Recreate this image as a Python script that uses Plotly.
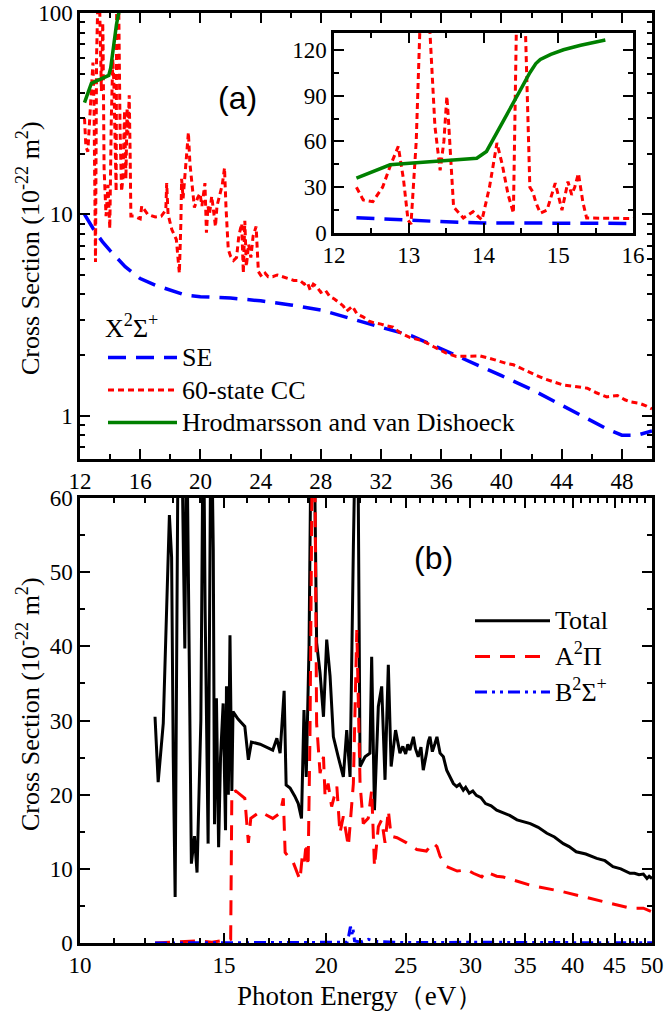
import plotly.graph_objects as go

# ---------------- Panel (a): X2Sigma+ ----------------
se_x = [12.3, 13, 13.5, 14, 15, 16, 17, 18, 19, 20, 22, 24, 26, 28, 30, 32, 34, 36, 38, 40, 42, 44, 46, 47, 48, 49, 50]
se_y = [10.0, 8.2, 7.3, 6.6, 5.5, 4.8, 4.45, 4.2, 3.97, 3.9, 3.84, 3.72, 3.55, 3.35, 3.05, 2.75, 2.5, 2.15, 1.85, 1.58, 1.35, 1.13, 0.95, 0.86, 0.8, 0.8, 0.84]

cc_x = [12.3, 12.39, 12.52, 12.65, 12.75, 12.86, 12.93, 12.99, 13.03, 13.1, 13.15, 13.22, 13.28, 13.35, 13.42, 13.47,
        13.51, 13.53, 13.6, 13.73, 13.86, 13.98, 14.08, 14.18, 14.25, 14.33, 14.4, 14.44, 14.5, 14.56, 14.62, 14.66,
        14.7, 14.76, 14.85, 14.96, 15.05, 15.13, 15.18, 15.22, 15.27, 15.33, 15.38, 15.6, 16.0, 16.1, 16.3, 16.5,
        17.0, 17.4, 17.7, 17.76, 17.85, 18.1, 18.4, 18.6, 18.7, 18.75, 18.85, 19.0, 19.15, 19.2, 19.3, 19.4, 19.5,
        19.6, 19.8, 19.97, 20.1, 20.2, 20.3, 20.4, 20.5, 20.6, 20.75, 20.9, 21.0, 21.1, 21.3, 21.45, 21.6, 21.65,
        21.7, 21.85, 22.0, 22.2, 22.4, 22.55, 22.74, 22.85, 22.95, 23.05, 23.2, 23.35, 23.5, 23.7, 23.85, 24.07,
        24.3, 24.5, 24.8, 25.1, 25.5, 25.8, 26.2, 26.6, 26.9, 27.1, 27.3, 27.5, 27.7, 28.0, 28.3, 28.6, 28.9, 29.3,
        29.5, 29.7, 30.1, 30.4, 30.8, 31.2, 31.5, 32.0, 32.3, 32.8, 33.2, 33.9, 34.8, 35.5, 36.3, 37.0, 37.7, 38.6,
        39.5, 40.3, 40.8, 41.5, 42.2, 42.8, 43.5, 44.1, 44.8, 45.7, 46.3, 47.0, 47.7, 48.2, 48.6, 49.2, 49.6, 50.0]
cc_y = [30, 21.7, 20.5, 30, 43.6, 56.7, 35, 8.5, 5.8, 60, 135, 150, 135, 70, 41, 60,
        89.5, 75, 17, 9.8, 14, 8.5, 30, 59, 45, 25, 13, 135, 160, 135, 30, 27,
        20, 13, 15, 32.7, 15, 33.7, 25, 30, 39, 20, 9.8, 9.8, 9.5, 11, 10.5, 10,
        9.7, 9.8, 10.5, 14.3, 10, 8.4, 7.5, 5.1, 9, 15, 12, 17, 22, 25.5, 18, 14.9, 13,
        10.8, 12, 12.7, 11, 13, 14.3, 8.1, 11, 10, 12.3, 10, 8.7, 11, 12.7, 14, 17, 13,
        10.8, 6.7, 6.2, 5.9, 6.1, 7.8, 9.0, 5.1, 9.3, 5.5, 7.1, 6.1, 7.8, 8.7, 5.2, 4.9,
        5.1, 4.9, 4.9, 5.0, 4.9, 4.8, 4.7, 4.7, 4.5, 4.6, 4.2, 4.5, 4.4, 4.1, 4.2, 3.9, 3.8, 3.6,
        3.5, 3.3, 3.5, 3.2, 3.1, 2.95, 2.9, 2.85, 2.8, 2.75, 2.6, 2.45, 2.35, 2.2, 2.05, 1.97, 1.97, 1.98,
        1.9, 1.82, 1.79, 1.7, 1.6, 1.53, 1.47, 1.42, 1.4, 1.37, 1.3, 1.24, 1.26, 1.2, 1.17, 1.15, 1.12, 1.08]

hvd_x = [12.3, 12.5, 12.75, 13.1, 13.5, 13.91, 14.04, 14.18, 14.3, 14.42, 14.52, 14.62, 14.7, 14.76, 14.9, 15.07, 15.3, 15.63]
hvd_y = [35.9, 40, 44.7, 46, 47.5, 49, 53.4, 65.5, 76, 87.4, 96, 105, 111, 113.7, 117, 120, 123, 126.4]

# ---------------- Panel (b) ----------------
tot_x = [12.35, 12.46, 12.64, 12.8, 12.86, 12.94, 13.0, 13.07, 13.19, 13.3, 13.37, 13.43, 13.5, 13.58, 13.68, 13.8,
         13.9, 14.05, 14.15, 14.22, 14.34, 14.46, 14.55, 14.6, 14.68, 14.77, 14.85, 14.96, 15.06, 15.1, 15.18, 15.25,
         15.33, 15.38, 15.6, 15.9, 16.06, 16.2, 16.6, 17.2, 17.4, 17.56, 17.76, 17.86, 18.06, 18.3, 18.48, 18.65,
         18.78, 18.9, 19.05, 19.2, 19.3, 19.46, 19.65, 19.84, 20.02, 20.21, 20.4, 20.68, 20.98, 21.18, 21.38, 21.58,
         21.75, 21.85, 21.99, 22.3, 22.61, 22.72, 22.9, 23.15, 23.37, 23.59, 23.81, 24.0, 24.3, 24.6, 24.8, 25.0,
         25.15, 25.3, 25.45, 25.55, 25.7, 25.9, 26.1, 26.27, 26.5, 26.65, 26.77, 26.95, 27.15, 27.3, 27.54, 27.8,
         28.06, 28.3, 28.59, 28.86, 29.1, 29.4, 29.6, 29.9, 30.2, 30.5, 30.9, 31.3, 31.8, 32.3, 32.9, 33.5, 34.2,
         35.5, 36.3, 37.2, 38.0, 38.96, 39.6, 40.4, 41.5, 42.8, 43.8, 44.8, 45.8, 47.0, 47.6, 48.2, 48.8, 49.3, 49.6, 50.0]
tot_y = [30.5, 21.7, 29.6, 50, 57.7, 52, 25, 6.2, 75, 72, 55, 39.7, 72, 40, 10.7, 14.4,
         9.5, 30, 75, 45, 13.4, 75, 53, 16, 33, 12.9, 25, 32.3, 15.2, 34.6, 20, 41.5,
         20.5, 31.2, 30.2, 29.2, 24.7, 27.1, 26.8, 26, 27.6, 25.6, 34, 21.3, 20.9, 19.8, 18.8, 16.8,
         31.4, 22.4, 40, 80, 75, 40.5, 36.4, 30.5, 40.9, 36, 27.8, 25.1, 22.4, 28.7, 22.4, 53.4,
         75, 70, 23.8, 25.1, 25.6, 38.6, 17.9, 31.9, 34.6, 22, 37.5, 23.8, 28.7, 25.6, 26.5, 25.5,
         26.8, 26, 27.3, 27.8, 26.2, 25.1, 26.4, 23.3, 25.5, 27.2, 27.8, 25.8, 26.9, 27.8, 25.6, 25.1,
         23.3, 22.4, 21.5, 21.1, 21.4, 20.6, 21.0, 20.2, 20.5, 19.9, 19.6, 18.8, 18.5, 17.9, 17.5, 17.2, 16.6,
         16.1, 15.6, 14.8, 14.3, 13.4, 13.0, 12.3, 12.0, 11.4, 11.1, 10.3, 10.0, 9.4, 9.4, 9.2, 9.3, 8.7, 9.0, 8.7]

a_x = [12.35, 13.0, 13.5, 14.0, 14.5, 15.0, 15.28, 15.33, 15.5, 15.9, 16.06, 16.17, 16.6, 17.2, 17.56, 17.72, 17.81,
       18.23, 18.57, 18.7, 18.8, 18.9, 19.0, 19.1, 19.25, 19.35, 19.46, 19.65, 19.84, 19.93, 20.1, 20.3, 20.6, 20.78,
       20.98, 21.28, 21.58, 21.79, 21.99, 22.19, 22.5, 22.72, 22.9, 23.15, 23.37, 23.59, 23.81, 24.0, 24.4, 25.07,
       25.8, 26.5, 27.0, 27.3, 27.54, 28.06, 28.9, 29.4, 29.7, 30.24, 30.97, 31.3, 32.3, 32.9, 35.5, 38.96, 42.8,
       47.0, 48.8, 50.0]
a_y = [0, 0.1, 0.2, 0.3, 0.1, 0.4, 0.5, 20.2, 20.5, 19.5, 13.5, 16.8, 17.7, 16.8, 17.5, 19.5, 12.2,
       10.8, 8.5, 12, 11, 13.5, 10.3, 28, 75, 70, 29.6, 22.9, 25.1, 19.7, 21.5, 18.4, 21.1, 14.8,
       17.1, 13.0, 21.5, 42.2, 21.5, 16.1, 16.8, 20.6, 10.3, 15.7, 16.6, 13.5, 17.9, 14.4, 14.2, 13.5,
       12.6, 12.4, 13.5, 13.0, 11.7, 10.3, 9.7, 9.8, 9.9, 9.4, 8.9, 9.6, 9.0, 8.9, 7.8, 6.9, 5.8,
       4.7, 4.7, 4.2]

b_x = [12.35, 15.0, 18.0, 20.0, 21.2, 21.3, 21.4, 21.5, 21.55, 21.65, 22.0, 22.5, 23.0, 25.0, 30.0, 40.0, 50.0]
b_y = [0, 0, 0, 0.05, 0.1, 1.0, 2.2, 1.2, 2.0, 0.3, 0.1, 0.5, 0.2, 0.05, 0.1, 0.05, 0.05]

top_xticks = [12, 16, 20, 24, 28, 32, 36, 40, 44, 48]
top_yticks = [1, 10, 100]
inset_xticks = [12, 13, 14, 15, 16]
inset_yticks = [0, 30, 60, 90, 120]
bot_xticks = [10, 15, 20, 25, 30, 35, 40, 45, 50]
bot_yticks = [0, 10, 20, 30, 40, 50, 60]

SERIF = "Liberation Serif"
W, H = 668, 1014


def big(s, size=26):
    return '<span style="font-size:%dpx">%s</span>' % (size, s)


fig = go.Figure()

# panel (a)
fig.add_trace(go.Scatter(x=se_x, y=se_y, mode="lines", name=big("SE"), legend="legend", legendgroup="se",
                         line=dict(color="#0000ff", width=3.5, dash="18px,10px"), xaxis="x", yaxis="y"))
fig.add_trace(go.Scatter(x=cc_x, y=cc_y, mode="lines", name=big("60-state CC"), legend="legend", legendgroup="cc",
                         line=dict(color="#ff0000", width=3, dash="6px,4px"), xaxis="x", yaxis="y"))
fig.add_trace(go.Scatter(x=hvd_x, y=hvd_y, mode="lines", name=big("Hrodmarsson and van Dishoeck"), legend="legend",
                         legendgroup="hvd", line=dict(color="#008000", width=3.5), xaxis="x", yaxis="y"))
# inset
fig.add_trace(go.Scatter(x=se_x, y=se_y, mode="lines", showlegend=False,
                         line=dict(color="#0000ff", width=3.5, dash="18px,10px"), xaxis="x3", yaxis="y3"))
fig.add_trace(go.Scatter(x=cc_x, y=cc_y, mode="lines", showlegend=False,
                         line=dict(color="#ff0000", width=3, dash="6px,4px"), xaxis="x3", yaxis="y3"))
fig.add_trace(go.Scatter(x=hvd_x, y=hvd_y, mode="lines", showlegend=False,
                         line=dict(color="#008000", width=3.5), xaxis="x3", yaxis="y3"))
# panel (b)
fig.add_trace(go.Scatter(x=tot_x, y=tot_y, mode="lines", name=big("Total"), legend="legend2", legendgroup="t",
                         line=dict(color="#000000", width=3), xaxis="x2", yaxis="y2"))
fig.add_trace(go.Scatter(x=a_x, y=a_y, mode="lines", name=big("A<sup>2</sup>Π"), legend="legend2", legendgroup="a",
                         line=dict(color="#ff0000", width=3, dash="15px,10px"), xaxis="x2", yaxis="y2"))
fig.add_trace(go.Scatter(x=b_x, y=b_y, mode="lines", name=big("B<sup>2</sup>Σ<sup>+</sup>"), legend="legend2",
                         legendgroup="b", line=dict(color="#0000ff", width=3, dash="12px,5px,3px,5px,3px,5px"),
                         xaxis="x2", yaxis="y2"))


def px_x(p):
    return p / W


def px_y(p):
    return 1 - p / H


axis_common = dict(showline=True, linecolor="black", linewidth=2.5, mirror="ticks", ticks="inside",
                   ticklen=10, tickwidth=2, tickcolor="black", showgrid=False, zeroline=False,
                   automargin=False, tickfont=dict(family=SERIF, size=23, color="black"))
minor_common = dict(ticks="inside", ticklen=5, tickwidth=2, tickcolor="black", showgrid=False)

ytitle = "Cross Section (10<sup>-22</sup> m<sup>2</sup>)"
dom_x = [px_x(80), px_x(652)]
fig.update_layout(
    width=W, height=H, margin=dict(l=0, r=0, t=0, b=0),
    paper_bgcolor="white", plot_bgcolor="rgba(0,0,0,0)",
    xaxis=dict(domain=dom_x, anchor="y", range=[12, 50], tickmode="array", tickvals=top_xticks,
               minor=dict(dtick=2, tick0=12, **minor_common), **axis_common),
    yaxis=dict(domain=[px_y(459), px_y(13)], anchor="x", type="log", range=[-0.215, 2],
               tickmode="array", tickvals=top_yticks, ticktext=["1", "10", "100"],
               minor=dict(tickmode="array", tickvals=[0.7, 0.8, 0.9, 2, 3, 4, 5, 6, 7, 8, 9,
                                                      20, 30, 40, 50, 60, 70, 80, 90], **minor_common),
               **axis_common),
    xaxis2=dict(domain=dom_x, anchor="y2", type="log", range=[1, 1.69897], tickmode="array",
                tickvals=bot_xticks, ticktext=[str(v) for v in bot_xticks],
                minor=dict(tickmode="array", tickvals=[11, 12, 13, 14, 16, 17, 18, 19, 21, 22, 23, 24, 26, 27, 28, 29,
                                                       31, 32, 33, 34, 36, 37, 38, 39, 41, 42, 43, 44, 46, 47, 48, 49],
                           **minor_common),
                **axis_common),
    yaxis2=dict(domain=[px_y(943), px_y(498)], anchor="x2", range=[0, 60], tickmode="array",
                tickvals=bot_yticks, minor=dict(dtick=5, tick0=0, **minor_common),
                **axis_common),
    xaxis3=dict(domain=[px_x(334), px_x(633)], anchor="y3", range=[12, 16], tickmode="array",
                tickvals=inset_xticks, minor=dict(dtick=0.5, tick0=12, **minor_common), **axis_common),
    yaxis3=dict(domain=[px_y(233), px_y(33)], anchor="x3", range=[0, 131], tickmode="array",
                tickvals=inset_yticks, minor=dict(dtick=15, tick0=0, **minor_common), **axis_common),
    legend=dict(x=px_x(103), y=px_y(308), xanchor="left", yanchor="top", bgcolor="rgba(0,0,0,0)",
                font=dict(family=SERIF, size=22, color="black"), itemwidth=69, tracegroupgap=1,
                title=dict(text=big("X<sup>2</sup>Σ<sup>+</sup>"), font=dict(family=SERIF, size=22, color="black"))),
    legend2=dict(x=px_x(470), y=px_y(600), xanchor="left", yanchor="top", bgcolor="rgba(0,0,0,0)",
                 font=dict(family=SERIF, size=22, color="black"), itemwidth=75, tracegroupgap=4),
    showlegend=True,
    annotations=[
        dict(text="(a)", x=px_x(237), y=px_y(98), xref="paper", yref="paper", showarrow=False,
             xanchor="center", yanchor="middle",
             font=dict(family="Liberation Sans", size=32, color="black")),
        dict(text="(b)", x=px_x(433), y=px_y(558), xref="paper", yref="paper", showarrow=False,
             xanchor="center", yanchor="middle",
             font=dict(family="Liberation Sans", size=32, color="black")),
        dict(text=ytitle, x=px_x(28), y=px_y(248), xref="paper", yref="paper", showarrow=False,
             xanchor="center", yanchor="middle", textangle=-90,
             font=dict(family=SERIF, size=26, color="black")),
        dict(text=ytitle, x=px_x(28), y=px_y(704), xref="paper", yref="paper", showarrow=False,
             xanchor="center", yanchor="middle", textangle=-90,
             font=dict(family=SERIF, size=26, color="black")),
        dict(text="Photon Energy（eV）", x=px_x(360), y=px_y(996), xref="paper", yref="paper", showarrow=False,
             xanchor="center", yanchor="middle",
             font=dict(family=SERIF, size=27, color="black")),
    ],
)

fig.write_html("out.html", post_script="document.body.style.margin='0px';")
